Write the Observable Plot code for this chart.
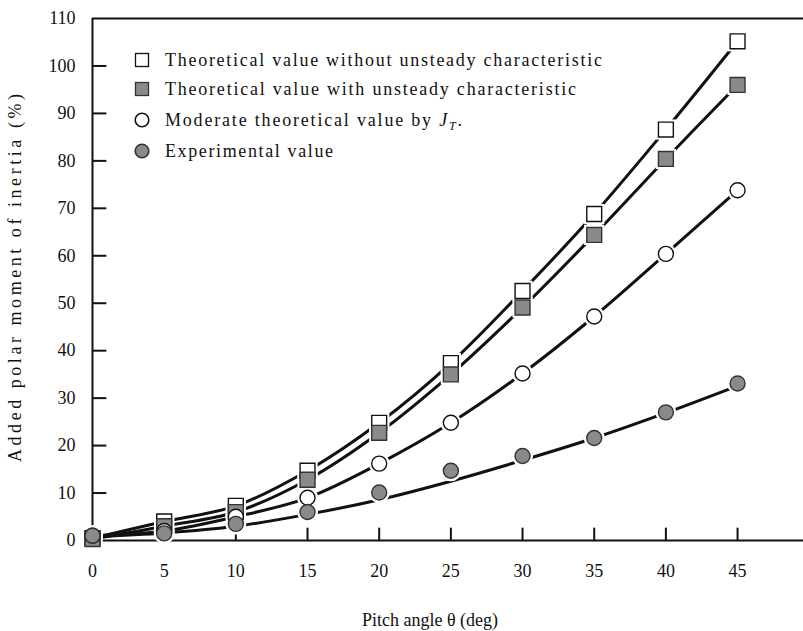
<!DOCTYPE html>
<html><head><meta charset="utf-8">
<script src="https://cdn.jsdelivr.net/npm/d3@7"></script>
<script src="https://cdn.jsdelivr.net/npm/@observablehq/plot@0.6"></script>
<style>
body{margin:0;background:#fff}
#chart{position:relative;width:803px;height:631px}
</style>
</head><body><div id="chart"></div>
<script>
// ---- data ----
const pitch = [0, 5, 10, 15, 20, 25, 30, 35, 40, 45];
const withoutUnsteady = [0.5, 4.0, 7.3, 14.7, 24.8, 37.4, 52.6, 68.8, 86.6, 105.2];
const withUnsteady    = [0.3, 3.0, 6.0, 12.8, 22.7, 35.0, 49.1, 64.4, 80.4, 96.0];
const moderate        = [1.0, 2.0, 5.0, 9.0, 16.2, 24.8, 35.2, 47.2, 60.4, 73.8];
const experimental    = [1.0, 1.5, 3.5, 6.0, 10.1, 14.7, 17.8, 21.6, 27.0, 33.1];
const experimentalFit = [0.8, 1.6, 3.0, 5.5, 8.6, 12.5, 16.9, 21.6, 26.9, 32.6];
const seriesNames = [
  "Theoretical value without unsteady characteristic",
  "Theoretical value with unsteady characteristic",
  "Moderate theoretical value by",
  "Experimental value"
];
const yTicks = [0, 10, 20, 30, 40, 50, 60, 70, 80, 90, 100, 110];
const xTicks = [0, 5, 10, 15, 20, 25, 30, 35, 40, 45];
const xLabel = "Pitch angle θ (deg)";
const yLabel = "Added polar moment of inertia (%)";

// ---- styles ----
const FONT = "'Liberation Serif', 'Times New Roman', serif";
const GRAY = "#8a8a8a";
const styles = [
  {symbol: "square", fill: "white", stroke: "#111", r: 8.4},
  {symbol: "square", fill: GRAY, stroke: "#333", r: 8.4},
  {symbol: "circle", fill: "white", stroke: "#111", r: 7.5},
  {symbol: "circle", fill: GRAY, stroke: "#333", r: 7.5}
];

const pointSets = [withoutUnsteady, withUnsteady, moderate, experimental];
const lineSets  = [withoutUnsteady, withUnsteady, moderate, experimentalFit];

const lineRows = [];
lineSets.forEach((vals, i) => pitch.forEach((p, j) => lineRows.push({series: seriesNames[i], x: p, y: vals[j]})));

const pointMarks = [];
const haloMarks = [];
pointSets.forEach((vals, i) => {
  const rows = pitch.map((p, j) => ({series: seriesNames[i], x: p, y: vals[j]}));
  const s = styles[i];
  haloMarks.push(Plot.dot(rows, {x: "x", y: "y", symbol: s.symbol, r: s.r + 3, fill: "white", stroke: "none"}));
  pointMarks.push(Plot.dot(rows, {x: "x", y: "y", symbol: s.symbol, r: s.r, fill: s.fill, stroke: s.stroke, strokeWidth: 1.4}));
});

const chart = Plot.plot({
  width: 803,
  height: 631,
  marginLeft: 92,
  marginRight: 0,
  marginTop: 18,
  marginBottom: 91,
  style: {fontFamily: FONT, fontSize: "18px", color: "#111", background: "white"},
  x: {domain: [0, 49.6], ticks: xTicks, tickSize: 0, tickPadding: 24, label: null, tickFormat: d => String(d)},
  y: {domain: [0, 110], ticks: yTicks, tickSize: 0, tickPadding: 17, label: null, tickFormat: d => String(d)},
  marks: [
    Plot.ruleY([110], {stroke: "#111", strokeWidth: 2}),
    Plot.ruleY([0], {stroke: "#111", strokeWidth: 2}),
    Plot.ruleX([0], {y1: 0, y2: 110, stroke: "#111", strokeWidth: 2}),
    Plot.ruleY(yTicks.filter(v => v > 0 && v < 110), {x1: 0, x2: 1.0, stroke: "#111", strokeWidth: 2}),
    Plot.ruleX(xTicks.filter(v => v > 0), {y1: 0, y2: 2.6, stroke: "#111", strokeWidth: 2}),
    Plot.line(lineRows, {x: "x", y: "y", z: "series", curve: "catmull-rom", stroke: "#111", strokeWidth: 3}),
    ...haloMarks,
    ...pointMarks
  ]
});
document.getElementById("chart").appendChild(chart);

// ---- labels & legend (real text) ----
const svg = d3.select(chart);
svg.append("text")
  .attr("x", 430).attr("y", 626)
  .attr("text-anchor", "middle")
  .attr("font-family", FONT).attr("font-size", 18).attr("fill", "#111")
  .text(xLabel);
svg.append("text")
  .attr("transform", "translate(21,278) rotate(-90)")
  .attr("text-anchor", "middle")
  .attr("font-family", FONT).attr("font-size", 18).attr("fill", "#111")
  .attr("textLength", 368).attr("lengthAdjust", "spacing")
  .text(yLabel);

const legendY = [60, 89, 120, 151];
const legendLen = [437, 411, 297, 168];
const lg = svg.append("g").attr("text-anchor", "start");
seriesNames.forEach((name, i) => {
  const s = styles[i];
  const cy = legendY[i];
  if (s.symbol === "square") {
    lg.append("rect").attr("x", 142 - 6.5).attr("y", cy - 6.5).attr("width", 13).attr("height", 13)
      .attr("fill", s.fill).attr("stroke", s.stroke).attr("stroke-width", 1.3);
  } else {
    lg.append("circle").attr("cx", 142).attr("cy", cy).attr("r", 6.8)
      .attr("fill", s.fill).attr("stroke", s.stroke).attr("stroke-width", 1.6);
  }
  const t = lg.append("text").attr("x", 165).attr("y", cy + 6)
    .attr("text-anchor", "start")
    .attr("font-family", FONT).attr("font-size", 18).attr("fill", "#111")
    .attr("textLength", legendLen[i]).attr("lengthAdjust", "spacing");
  t.append("tspan").text(name);
  if (i === 2) {
    t.append("tspan").text(" ");
    t.append("tspan").attr("font-style", "italic").text("J");
    t.append("tspan").attr("font-style", "italic").attr("font-size", 12).attr("dy", 4).text("T");
    t.append("tspan").attr("dy", -4).text(".");
  }
});
</script>
</body></html>
